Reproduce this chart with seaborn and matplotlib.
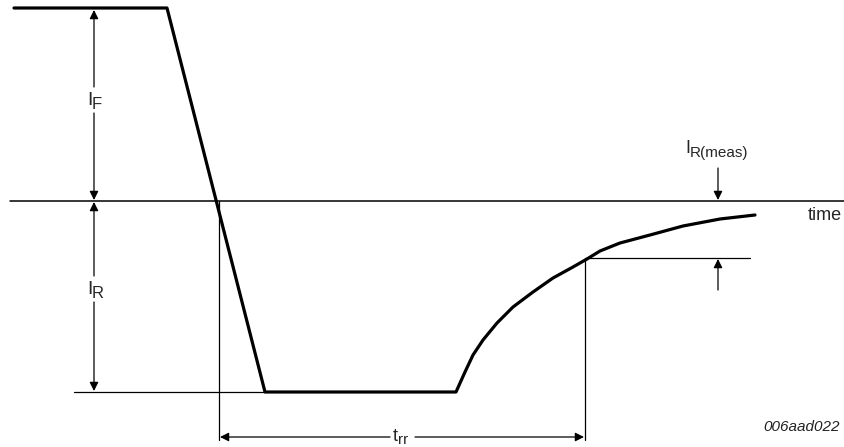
import matplotlib
matplotlib.use("Agg")
import matplotlib.pyplot as plt
import seaborn as sns
import pandas as pd

sns.set_style("white")
plt.rcParams['font.family'] = ['Liberation Sans', 'DejaVu Sans']

# waveform (x right, y down, pixel units)
wave_x = [14, 167, 265, 456, 465, 473, 483, 497, 513, 533, 553, 573, 587,
          600, 620, 650, 683, 720, 755]
wave_y = [8, 8, 392, 392, 372, 355, 340, 323, 307, 292, 278, 267, 259,
          251, 243, 235, 226, 219, 215]

zero_y = 201
if_y = 8
ir_y = 392
meas_y = 258
trr_x0 = 219
trr_x1 = 585

fig = plt.figure(figsize=(8.45, 4.47), dpi=100)
ax = fig.add_axes([0, 0, 1, 1])
ax.set_xlim(0, 845)
ax.set_ylim(447, 0)
ax.axis("off")

wave = pd.DataFrame({"x": wave_x, "y": wave_y})
sns.lineplot(data=wave, x="x", y="y", sort=False, color="black", lw=2.3, ax=ax)

thin = dict(color="black", lw=0.9)
ax.plot([10, 845], [zero_y, zero_y], color="black", lw=1.1)
ax.plot([74, 265], [ir_y, ir_y], **thin)
ax.plot([trr_x0, trr_x0], [zero_y, 440], **thin)
ax.plot([trr_x1, trr_x1], [meas_y, 440], **thin)
ax.plot([trr_x1, 750], [meas_y, meas_y], **thin)

arr = dict(arrowstyle="-|>", color="black", lw=0.9, mutation_scale=13,
           shrinkA=0, shrinkB=0)


def arrow(x0, y0, x1, y1):
    ax.annotate("", xy=(x1, y1), xytext=(x0, y0), arrowprops=arr)


def label(x, y, main, sub, size, sub_size, sub_dx, sub_dy=4):
    ax.text(x, y, main, fontsize=size, ha="left", va="baseline")
    ax.text(x + sub_dx, y + sub_dy, sub, fontsize=sub_size, ha="left", va="baseline")


# I_F
arrow(94, 87, 94, if_y + 2)
arrow(94, 113, 94, zero_y - 1)
label(87, 105, "I", "F", 14, 12, 5)
# I_R
arrow(94, 276, 94, zero_y + 1)
arrow(94, 302, 94, ir_y - 1)
label(87, 294, "I", "R", 14, 12, 5)

# I_R(meas)
arrow(718, 168, 718, zero_y - 1)
arrow(718, 290, 718, meas_y + 1)
label(685, 153, "I", "R(meas)", 13, 11, 5)

ax.text(808, 220, "time", fontsize=13, ha="left", va="baseline")

# t_rr
arrow(390, 437, trr_x0 + 1, 437)
arrow(415, 437, trr_x1 - 1, 437)
label(393, 441, "t", "rr", 13, 11, 5, 3)

ax.text(840, 427, "006aad022", fontsize=11, style="italic", ha="right",
        va="center", color="#222222")

fig.savefig("out.png", dpi=100)
